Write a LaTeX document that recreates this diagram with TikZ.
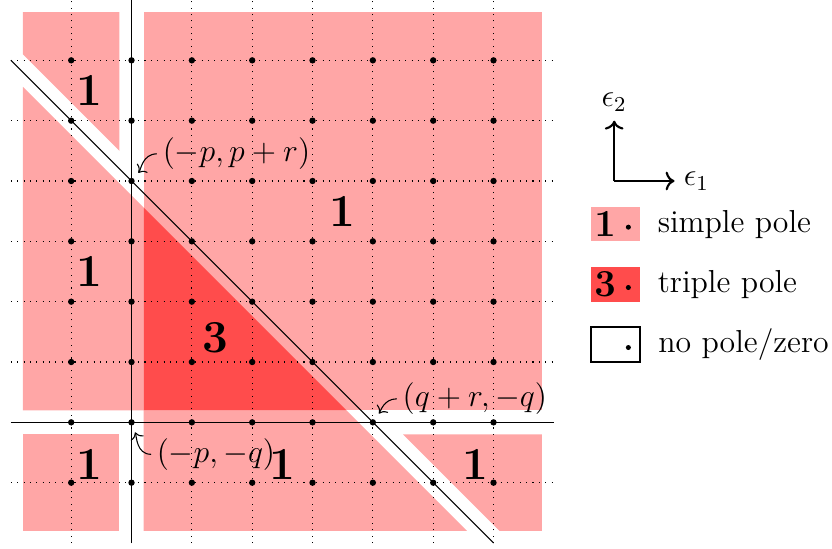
\documentclass[tikz,border=0pt]{standalone}
\usepackage{amsmath}
\usepackage{tikz}
\usetikzlibrary{positioning, arrows.meta, calc}
\definecolor{simplepink}{HTML}{FFA6A6}
\definecolor{triplered}{HTML}{FF4C4C}

\begin{document}
\begin{tikzpicture}[x=0.8cm, y=0.8cm,
                gridline/.style={dotted},
                axis/.style={black},
                cut/.style={black},
                order/.style={font=\LARGE\bfseries},
                ann/.style={font=\large, inner sep=2pt},
                annarrow/.style={->, shorten >=4pt},
                legbox/.style={rectangle, inner sep=0pt, minimum width=18.6pt, minimum height=13pt, font=\Large},
                legtext/.style={font=\large}
            ]
            \useasboundingbox (-2.18,-2.09) rectangle (11.61,7);

            % Bereiche
            \fill[simplepink] (-1.8,6.8) -- (-0.2,6.8) -- (-0.2,4.5) -- (-1.8,6.1) -- cycle;
            \fill[simplepink] (-1.8,0.2) -- (0.2,0.2) -- (0.2,3.56) -- (-1.8,5.56) -- cycle;
            \fill[simplepink] (-1.8,-1.8) rectangle (-0.2,-0.2);
            \fill[simplepink] (0.2,0.2) rectangle (6.8,6.8);
            \fill[simplepink] (0.2,0.2) -- (3.56,0.2) -- (5.56,-1.8) -- (0.2,-1.8) -- cycle;
            \fill[simplepink] (4.5,-0.2) -- (6.8,-0.2) -- (6.8,-1.8) -- (6.1,-1.8) -- cycle;
            \fill[triplered] (0.2,0.2) -- (3.56,0.2) -- (0.2,3.56) -- cycle;

            % Gitter und Achsen
            \foreach \i in {-1,...,6} {
                \draw[gridline] (\i,-2) -- (\i,7);
                \draw[gridline] (-2,\i) -- (7,\i);
            }
            \draw[axis] (-2,0) -- (7,0);
            \draw[axis] (0,-2) -- (0,7);
            \draw[cut] (-2,6) -- (6,-2);
            \foreach \x in {-1,...,6}
                \foreach \y in {-1,...,6}
                    \fill (\x,\y) circle (1.2pt);

            % Ordnungen
            \node[order] (oA) at (-0.7,5.5) {1};
            \node[order] (oB) at (-0.7,2.5) {1};
            \node[order] (oC) at (-0.7,-0.7) {1};
            \node[order] (oD) at (3.5,3.5) {1};
            \node[order] (oE) at (1.39,1.4) {3};
            \node[order] (oF) at (2.5,-0.7) {1};
            \node[order] (oG) at (5.7,-0.7) {1};

            % Punkte mit Beschriftung
            \coordinate (pA) at (0,4);
            \coordinate (pB) at (0,0);
            \coordinate (pC) at (4,0);
            \node[ann] (lA) at (1.74,4.45) {$(-p,p+r)$};
            \node[ann] (lB) at (1.40,-0.53) {$(-p,-q)$};
            \node[ann] (lC) at (5.69,0.39) {$(q+r,-q)$};
            \draw[annarrow] (lA.west) to[out=180, in=50] (pA);
            \draw[annarrow] (lB.west) to[out=180, in=-70] (pB);
            \draw[annarrow] (lC.west) to[out=180, in=55] (pC);

            % Legende
            \coordinate (o) at (8,4);
            \coordinate (e1tip) at (9,4);
            \coordinate (e2tip) at (8,5);
            \draw[thick, ->] (o) -- (e1tip);
            \draw[thick, ->] (o) -- (e2tip);
            \node[legtext, right] (e1) at (e1tip) {$\epsilon_1$};
            \node[legtext, above] (e2) at (e2tip) {$\epsilon_2$};

            \node[legbox, fill=simplepink] (k1) at (8.025,3.285) {$\mathbf{1}\;\phantom{\cdot}$};
            \node[legbox, fill=triplered] (k3) at (8.025,2.285) {$\mathbf{3}\;\phantom{\cdot}$};
            \node[legbox, draw=black, thick] (k0) at (8.025,1.29) {};
            \fill ($(k1.center)+(0.21,-0.05)$) circle (0.95pt);
            \fill ($(k3.center)+(0.21,-0.05)$) circle (0.95pt);
            \fill ($(k0.center)+(0.21,-0.05)$) circle (0.95pt);
            \node[legtext, right=1mm of k1] (t1) {simple pole};
            \node[legtext, right=1mm of k3] (t3) {triple pole};
            \node[legtext, right=1mm of k0] (t0) {no pole/zero};

        \end{tikzpicture}
\end{document}
